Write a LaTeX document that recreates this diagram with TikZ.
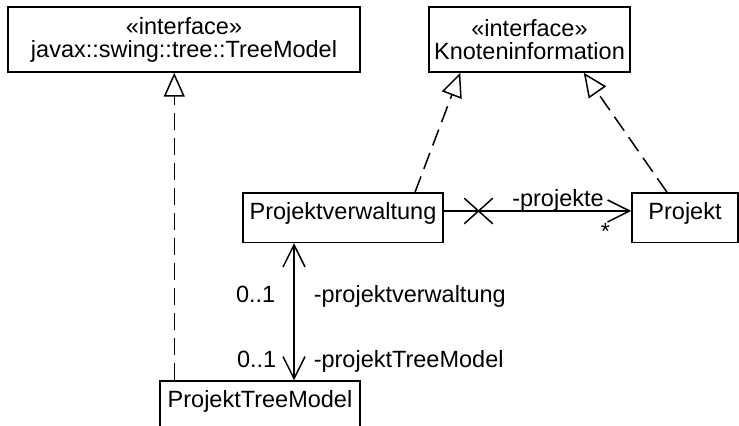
\documentclass[tikz,border=0pt]{standalone}
\usepackage{fontspec}
\setmainfont{Liberation Sans}
\usetikzlibrary{arrows.meta,positioning,calc,shapes.misc}

\begin{document}
\begin{tikzpicture}[
  x=0.5pt, y=-0.5pt,
  font=\fontsize{11.75}{11.5}\selectfont,
  line width=0.75pt,
  iface/.style={rectangle, draw, align=center, inner xsep=2pt, inner ysep=0pt,
                minimum height=32.5pt},
  cls/.style={rectangle, draw, inner xsep=2pt, inner ysep=5pt,
              text height=8.5pt, text depth=6.25pt},
  real/.style={dash pattern=on 8.5pt off 4pt,
               -{Triangle[length=12pt, width=10.5pt, fill=white]}},
  nav/.style={-{Straight Barb[length=11pt, width=11pt]}},
  bnav/.style={{Straight Barb[length=11pt, width=11pt]}-{Straight Barb[length=11pt, width=11pt]}},
  xmark/.style={cross out, draw, inner sep=0pt, minimum width=13.5pt, minimum height=12pt},
  lbl/.style={inner sep=0pt}
]
\useasboundingbox (0,0) rectangle (739,426);

% interfaces
\node[iface, minimum width=176pt]   (tm) at (184,39.5)  {«interface»\\javax::swing::tree::TreeModel};
\node[iface, minimum width=100.5pt] (ki) at (529.5,39.5) {«interface»\\Knoteninformation};

% classes
\node[cls, minimum width=100pt] (pv)  at (343,217.75) {Projektverwaltung};
\node[cls, minimum width=53pt]  (pj)  at (685,217.75) {Projekt};
\node[cls, minimum width=100pt] (ptm) at (260,405.75) {ProjektTreeModel};

% realizations
\draw[real] ([xshift=7.5pt]ptm.north west) -- ([xshift=7.5pt]ptm.north west |- tm.south);
\draw[real] ([xshift=36pt]pv.north) -- ([xshift=16pt]ki.south west);
\draw[real] ([xshift=-9pt]pj.north) -- ([xshift=-23.5pt]ki.south east);

% associations
\node[xmark] (nx) at (478.5,211) {};
\draw[nav] (pv.east |- nx) -- (pj.west |- nx)
  node[lbl, pos=0.857, anchor=base east, yshift=2pt] {-projekte}
  node[lbl, pos=0.862, anchor=base, yshift=-14.5pt] {*};
\draw[bnav] ([xshift=-24.5pt]pv.south) -- ([xshift=-24.5pt]pv.south |- ptm.north)
  node[lbl, pos=0.43, anchor=base east, xshift=-9pt] {0..1}
  node[lbl, pos=0.43, anchor=base west, xshift=9.5pt] {-projektverwaltung}
  node[lbl, pos=0.906, anchor=base east, xshift=-8.5pt] {0..1}
  node[lbl, pos=0.906, anchor=base west, xshift=9.5pt] {-projektTreeModel};
\end{tikzpicture}
\end{document}
